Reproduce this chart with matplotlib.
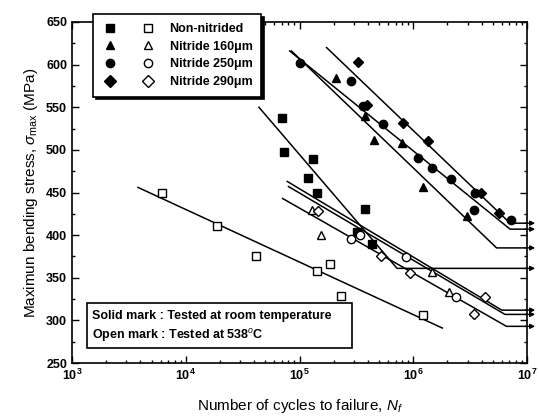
import matplotlib
matplotlib.use('Agg')
import matplotlib.pyplot as plt
from matplotlib.legend_handler import HandlerTuple
from matplotlib.lines import Line2D
from matplotlib.patches import Rectangle, Shadow

plt.rcParams['font.family'] = ['Liberation Sans', 'DejaVu Sans']
plt.rcParams['mathtext.fontset'] = 'custom'
plt.rcParams['mathtext.rm'] = 'Liberation Sans'
plt.rcParams['mathtext.it'] = 'Liberation Sans:italic'

# room temperature data (solid marks)
rt_non_N = [6.95e4, 7.3e4, 1.32e5, 1.19e5, 1.43e5, 3.77e5, 3.2e5, 4.3e5]
rt_non_S = [537, 498, 489, 467, 450, 431, 404, 390]
rt_160_N = [2.09e5, 3.77e5, 4.55e5, 7.9e5, 1.22e6, 2.95e6]
rt_160_S = [584, 540, 511, 508, 457, 422]
rt_250_N = [1.01e5, 2.84e5, 3.64e5, 5.38e5, 1.11e6, 1.47e6, 2.15e6, 3.42e6, 3.49e6, 7.24e6]
rt_250_S = [602, 581, 551, 530, 491, 479, 466, 429, 450, 418]
rt_290_N = [3.29e5, 3.94e5, 8.18e5, 1.36e6, 3.94e6, 5.71e6]
rt_290_S = [603, 553, 531, 510, 450, 426]

# 538 C data (open marks)
ht_non_N = [6.2e3, 1.89e4, 4.15e4, 1.43e5, 1.85e5, 2.32e5, 1.22e6]
ht_non_S = [450, 411, 376, 358, 366, 329, 306]
ht_160_N = [1.28e5, 1.55e5, 1.45e6, 2.07e6]
ht_160_S = [430, 400, 357, 333]
ht_250_N = [2.82e5, 3.4e5, 8.6e5, 2.38e6]
ht_250_S = [396, 400, 374, 327]
ht_290_N = [1.46e5, 5.2e5, 9.4e5, 3.44e6, 4.28e6]
ht_290_S = [428, 375, 356, 307, 328]

# fitted S-N lines (start, knee, end)
fit_rt_non = ([4.4e4, 7.2e5, 1e7], [550, 361, 361])
fit_rt_160 = ([8.5e4, 5.4e6, 1e7], [616, 385, 385])
fit_rt_250 = ([8.2e4, 7.1e6, 1e7], [616, 407, 407])
fit_rt_290 = ([1.73e5, 7.1e6, 1e7], [620, 414, 414])
fit_ht_non = ([3.8e3, 1.8e6], [456, 291])
fit_ht_160 = ([7.8e4, 6.0e6, 1e7], [463, 312, 312])
fit_ht_250 = ([8.0e4, 6.4e6, 1e7], [457, 307, 307])
fit_ht_290 = ([7.1e4, 6.6e6, 1e7], [443, 293, 293])

endurance = [361, 385, 407, 414, 312, 307, 293]

fig = plt.figure(figsize=(5.39, 4.17), dpi=100)
ax = fig.add_axes([72/539, 1-363/417, 455/539, 341/417])

for N, S in [fit_rt_non, fit_rt_160, fit_rt_250, fit_rt_290,
             fit_ht_non, fit_ht_160, fit_ht_250, fit_ht_290]:
    ax.plot(N, S, color='k', lw=1.1)

ms = 6
ax.plot(rt_non_N, rt_non_S, 's', color='k', ms=ms-0.5, ls='none')
ax.plot(rt_160_N, rt_160_S, '^', color='k', ms=ms, ls='none')
ax.plot(rt_250_N, rt_250_S, 'o', color='k', ms=ms, ls='none')
ax.plot(rt_290_N, rt_290_S, 'D', color='k', ms=ms-0.5, ls='none')
ax.plot(ht_non_N, ht_non_S, 's', mfc='white', mec='k', mew=1, ms=ms-0.5, ls='none')
ax.plot(ht_160_N, ht_160_S, '^', mfc='white', mec='k', mew=1, ms=ms, ls='none')
ax.plot(ht_250_N, ht_250_S, 'o', mfc='white', mec='k', mew=1, ms=ms, ls='none')
ax.plot(ht_290_N, ht_290_S, 'D', mfc='white', mec='k', mew=1, ms=ms-0.5, ls='none')

for s in endurance:
    ax.annotate('', xy=(1.024, s), xycoords=('axes fraction', 'data'),
                xytext=(0.99, s), textcoords=('axes fraction', 'data'),
                arrowprops=dict(arrowstyle='-|>', color='k', lw=1, mutation_scale=7),
                annotation_clip=False)

ax.set_xscale('log')
ax.set_xlim(1e3, 1e7)
ax.set_ylim(250, 650)
ax.set_yticks(range(250, 651, 50))
ax.set_yticks(range(275, 650, 50), minor=True)
ax.tick_params(which='both', direction='in', top=True, right=True, width=1)
ax.tick_params(which='major', length=5, labelsize=9)
ax.tick_params(which='minor', length=2.5)
for lab in ax.get_xticklabels() + ax.get_yticklabels():
    lab.set_fontweight('bold')
for sp in ax.spines.values():
    sp.set_linewidth(1.2)

ax.set_xlabel('Number of cycles to failure, $N_f$', fontsize=11, labelpad=10)
ax.set_ylabel('Maximun bending stress, $\\sigma_{\\mathrm{max}}$ (MPa)', fontsize=11, labelpad=4)

# legend with filled and open marks side by side
kw = dict(color='k', ls='none', ms=ms)
handles = []
labels = ['Non-nitrided', 'Nitride 160\u03bcm', 'Nitride 250\u03bcm', 'Nitride 290\u03bcm']
for m in ['s', '^', 'o', 'D']:
    h1 = Line2D([], [], marker=m, **kw)
    h2 = Line2D([], [], marker=m, mfc='white', mec='k', mew=1, **kw)
    handles.append((h1, h2))
leg = fig.legend(handles, labels, handler_map={tuple: HandlerTuple(ndivide=None, pad=1.8)},
                 loc='upper left', bbox_to_anchor=(87/539, 1-8/417),
                 handlelength=4.3, handletextpad=1.1, borderpad=0.7, labelspacing=0.45,
                 prop=dict(size=9, weight='bold'), fancybox=False, framealpha=1,
                 edgecolor='k', shadow=dict(color='k', alpha=1))
leg.get_frame().set_linewidth(1.2)

# note box
box = Rectangle((0.033, 0.044), 0.582, 0.133, transform=ax.transAxes,
                fc='white', ec='k', lw=1.2, zorder=5)
shadow = Shadow(box, 3, -3, fc='k', ec='k', zorder=4.9)
ax.add_patch(shadow)
ax.add_patch(box)
ax.text(0.044, 0.138, 'Solid mark : Tested at room temperature', transform=ax.transAxes,
        fontsize=9, fontweight='bold', va='center', zorder=6)
ax.text(0.044, 0.082, 'Open mark : Tested at 538$^o$C', transform=ax.transAxes,
        fontsize=9, fontweight='bold', va='center', zorder=6)

fig.savefig('out.png', dpi=100)
